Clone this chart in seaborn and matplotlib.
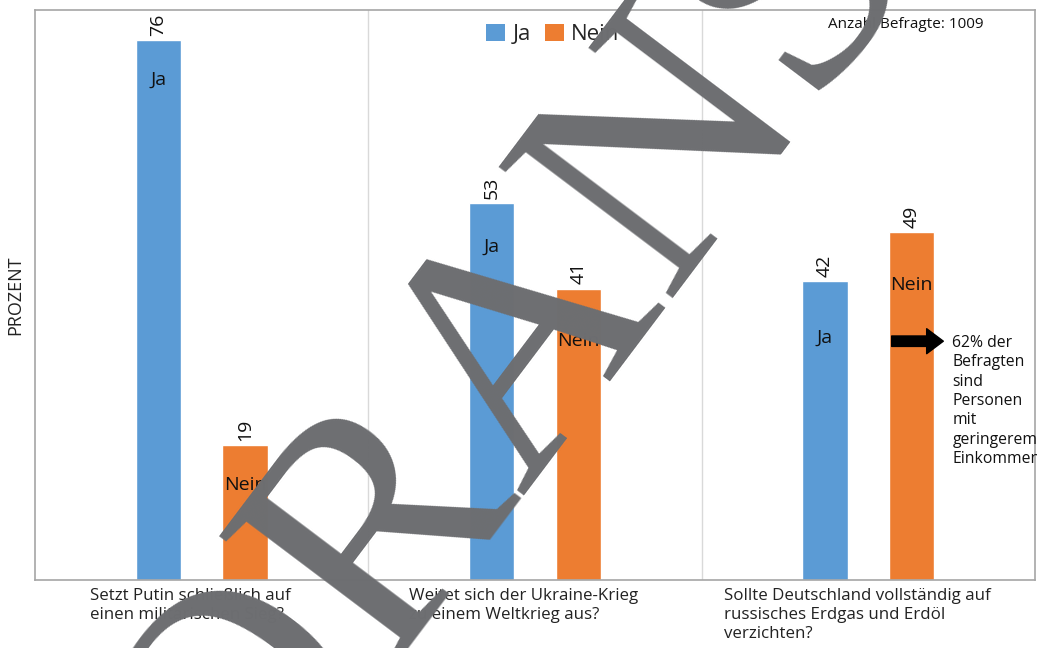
import matplotlib
matplotlib.use("Agg")
import matplotlib.pyplot as plt
import seaborn as sns
import pandas as pd
from matplotlib.patches import Patch
from matplotlib.container import BarContainer
from matplotlib.transforms import ScaledTranslation

questions = [
    "Setzt Putin schließlich auf\neinen militärischen Sieg?",
    "Weitet sich der Ukraine-Krieg\nzu einem Weltkrieg aus?",
    "Sollte Deutschland vollständig auf\nrussisches Erdgas und Erdöl\nverzichten?",
]
answers = ["Ja", "Nein"]
ja_values = [76, 53, 42]
nein_values = [19, 41, 49]
colors = ["#5B9BD5", "#ED7D31"]
respondents_note = "Anzahl Befragte: 1009"
side_note = "62% der\nBefragten\nsind\nPersonen\nmit\ngeringerem\nEinkommen"
watermark = "ORANS"

df = pd.DataFrame({
    "Frage": questions * 2,
    "Antwort": [answers[0]] * 3 + [answers[1]] * 3,
    "Prozent": ja_values + nein_values,
})

sns.set_theme(style="white")
plt.rcParams["font.family"] = ["Open Sans", "DejaVu Sans"]

fig = plt.figure(figsize=(10.37, 6.48), dpi=100)
ax = fig.add_axes([35 / 1037, 1 - 580 / 648, 1000 / 1037, 570 / 648])

sns.barplot(data=df, x="Frage", y="Prozent", hue="Antwort", hue_order=answers,
            palette=colors, saturation=1, width=0.52, gap=0.48, ax=ax, legend=False)

ax.set_ylim(0, 80.2)
ax.set_xlim(-0.5, 2.5)
ax.set_yticks([])
ax.set_xlabel("")
ax.set_ylabel("PROZENT", fontsize=13, color="#222222", labelpad=8)
ax.tick_params(axis="x", length=0, pad=6)
ax.set_xticks(range(len(questions)))
ax.set_xticklabels(questions, fontsize=12.2, multialignment="left", color="#222222",
                   linespacing=1.25)
shift = ScaledTranslation(-11 / 100, 0, fig.dpi_scale_trans)
for lab in ax.get_xticklabels():
    lab.set_transform(lab.get_transform() + shift)

for sp in ax.spines.values():
    sp.set_color("#a6a6a6")
    sp.set_linewidth(1.2)

for xv in [0.5, 1.5]:
    ax.axvline(xv, color="#d9d9d9", lw=1, zorder=0)

inner_pads = {"Ja": [-35, -38, -47], "Nein": [-35, -44, -45]}
for cont, name in zip(ax.containers, answers):
    ax.bar_label(cont, rotation=90, padding=3, fontsize=14, color="#111111")
    for patch, pad in zip(cont.patches, inner_pads[name]):
        single = BarContainer([patch], datavalues=[patch.get_height()],
                              orientation="vertical")
        ax.bar_label(single, labels=[name], padding=pad, fontsize=14, color="#111111")

handles = [Patch(facecolor=c, edgecolor="none") for c in colors]
ax.legend(handles, answers, loc="center", bbox_to_anchor=(0.518, 0.957), ncol=2,
          frameon=False, fontsize=16, handlelength=0.85, handleheight=0.85,
          handletextpad=0.35, columnspacing=0.6)

ax.text(0.871, 0.974, respondents_note, transform=ax.transAxes, ha="center", va="center",
        fontsize=11, color="#111111")

ax.annotate("", xy=(2.225, 33.6), xytext=(2.07, 33.6),
            arrowprops=dict(arrowstyle="simple,head_width=1.2,head_length=0.8,tail_width=0.5",
                            color="black", mutation_scale=15, shrinkA=0, shrinkB=0))
ax.text(2.252, 34.5, side_note, ha="left", va="top", fontsize=11.3, linespacing=1.28,
        color="#111111", clip_on=False)

fig.text(0.230, -0.321, watermark, rotation=53, ha="left", va="baseline",
         rotation_mode="anchor", fontsize=240, color="#6d6e71", family="Liberation Serif")

fig.savefig("out.png", dpi=100)
